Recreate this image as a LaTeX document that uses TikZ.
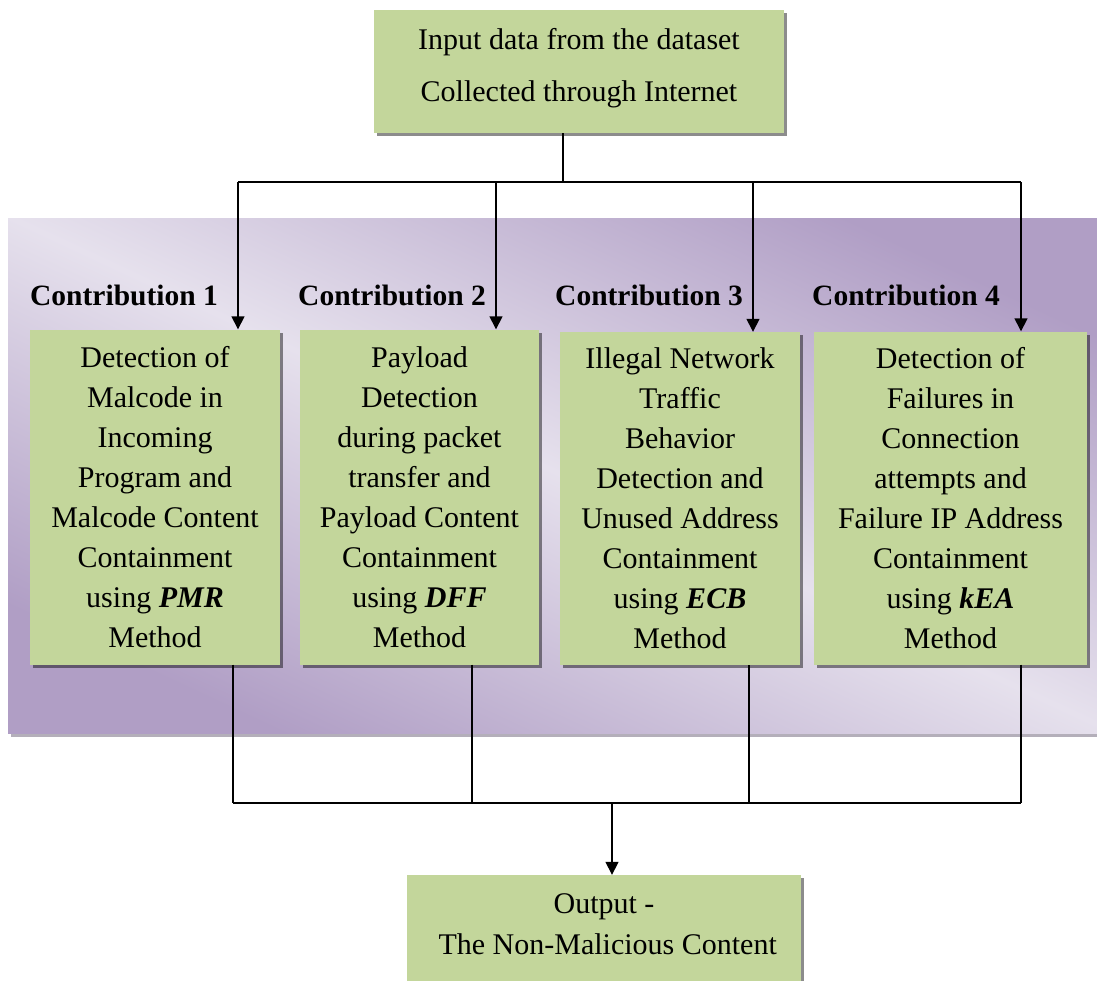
\documentclass[tikz,border=0pt]{standalone}
\usepackage{fontspec}
\setmainfont{Liberation Serif}
\usetikzlibrary{arrows.meta,shadows}
\definecolor{boxgreen}{HTML}{C3D69B}
\definecolor{pdark}{HTML}{B09EC5}
\definecolor{plight}{HTML}{E6E1ED}
\tikzset{
  gbox/.style={fill=boxgreen, draw=none, inner sep=0pt, align=center,
    drop shadow={shadow xshift=3pt, shadow yshift=-3pt, fill=black, opacity=0.45},
    font=\fontsize{30}{40}\selectfont},
  lbl/.style={font=\fontsize{29.5}{34}\selectfont\bfseries, anchor=base west, inner sep=0pt},
  wire/.style={line width=1.5pt, draw=black},
  arr/.style={wire, -{Triangle[width=13pt,length=13pt]}},
}
\begin{document}
\begin{tikzpicture}[x=1pt,y=1pt]
\useasboundingbox (0,0) rectangle (1097,-980);
\clip (0,0) rectangle (1097,-980);

% purple panel
\path[top color=pdark, bottom color=pdark, middle color=plight, shading angle=-25,
      drop shadow={shadow xshift=3pt, shadow yshift=-4pt, fill=pdark!60!black, opacity=0.5}]
  (8,-218) rectangle (1120,-733);

% top box
\node[gbox, minimum width=410pt, minimum height=123pt, font=\fontsize{30}{52}\selectfont]
  (top) at (579,-71.5) {\raisebox{0pt}[0pt][0pt]{\begin{tabular}{@{}c@{}}Input data from the dataset\\Collected through Internet\end{tabular}}};

% labels
\node[lbl] (l1) at (30,-305) {Contribution 1};
\node[lbl] (l2) at (298,-305) {Contribution 2};
\node[lbl] (l3) at (555,-305) {Contribution 3};
\node[lbl] (l4) at (812,-305) {Contribution 4};

% contribution boxes
\node[gbox, minimum width=250pt, minimum height=335pt] (c1) at (155,-497)
  {Detection of\\Malcode in\\Incoming\\Program and\\Malcode Content\\Containment\\using \textbf{\textit{PMR}}\\Method};
\node[gbox, minimum width=239pt, minimum height=335pt] (c2) at (419.5,-497)
  {Payload\\Detection\\during packet\\transfer and\\Payload Content\\Containment\\using \textbf{\textit{DFF}}\\Method};
\node[gbox, minimum width=240pt, minimum height=333pt] (c3) at (680,-498.5)
  {Illegal Network\\Traffic\\Behavior\\Detection and\\Unused Address\\Containment\\using \textbf{\textit{ECB}}\\Method};
\node[gbox, minimum width=273pt, minimum height=333pt] (c4) at (950.5,-498)
  {Detection of\\Failures in\\Connection\\attempts and\\Failure IP Address\\Containment\\using \textbf{\textit{kEA}}\\Method};

% output box
\node[gbox, minimum width=394pt, minimum height=115pt, font=\fontsize{30}{41}\selectfont]
  (out) at (604,-932.5) {\raisebox{0pt}[0pt][0pt]{\begin{tabular}{@{}c@{}}Output -\\\ The Non-Malicious Content\end{tabular}}};

% top distribution
\coordinate (j) at (563,-182);
\coordinate (a1) at (238,-182);
\coordinate (a2) at (496,-182);
\coordinate (a3) at (753,-182);
\coordinate (a4) at (1021,-182);
\draw[wire] (top.south -| j) -- (j);
\draw[wire] (a1) -- (a4);
\draw[arr] (a1) -- (a1 |- c1.north);
\draw[arr] (a2) -- (a2 |- c2.north);
\draw[arr] (a3) -- (a3 |- c3.north);
\draw[arr] (a4) -- (a4 |- c4.north);

% bottom collection
\coordinate (b1) at (233,-803);
\coordinate (b2) at (472,-803);
\coordinate (b3) at (749,-803);
\coordinate (b4) at (1021,-803);
\coordinate (bm) at (612,-803);
\draw[wire] (b1 |- c1.south) -- (b1);
\draw[wire] (b2 |- c2.south) -- (b2);
\draw[wire] (b3 |- c3.south) -- (b3);
\draw[wire] (b4 |- c4.south) -- (b4);
\draw[wire] (b1) -- (b4);
\draw[arr] (bm) -- (bm |- out.north);
\end{tikzpicture}
\end{document}
